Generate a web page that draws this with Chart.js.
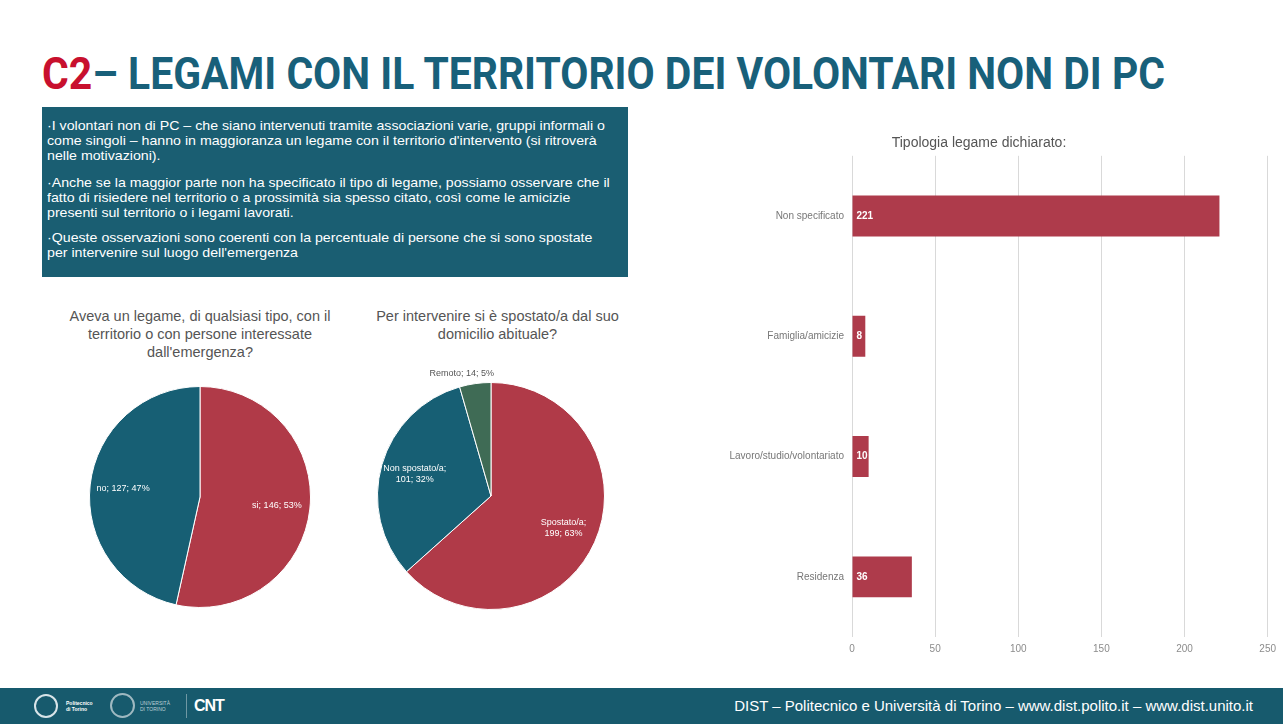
<!DOCTYPE html>
<html><head><meta charset="utf-8">
<script src="https://cdn.jsdelivr.net/npm/chart.js@4.4.1/dist/chart.umd.min.js"></script>
<style>
html,body{margin:0;padding:0;background:#fff;}
body{width:1283px;height:724px;position:relative;overflow:hidden;font-family:"Liberation Sans",Arial,sans-serif;}
#title{position:absolute;left:42px;top:48px;white-space:nowrap;font-family:"Roboto","Liberation Sans",sans-serif;font-weight:700;font-size:44px;color:#18607a;transform-origin:0 0;line-height:52px;}
#title .c2{color:#c8102e;}
#box{position:absolute;left:42px;top:107px;width:586px;height:170px;background:#1a5e72;color:#fff;}
#box .l{position:absolute;left:5px;white-space:nowrap;font-size:12.6px;line-height:14px;transform-origin:0 0;}
.ptitle{position:absolute;text-align:center;color:#555;font-size:14.5px;line-height:18px;white-space:nowrap;}
canvas{position:absolute;}
#footer{position:absolute;left:0;top:688px;width:1283px;height:36px;background:#175a6d;}
#ftext{position:absolute;right:30px;top:9px;color:#fff;font-size:15px;white-space:nowrap;}
.logo{position:absolute;color:#fff;font-size:5px;line-height:6px;}
.circ{position:absolute;border:2px solid #d8e4e8;border-radius:50%;}
</style></head>
<body>
<div id="title"><span class="c2">C2</span>– LEGAMI CON IL TERRITORIO DEI VOLONTARI NON DI PC</div>
<div id="box">
 <div class="l" style="top:12px">·I volontari non di PC – che siano intervenuti tramite associazioni varie, gruppi informali o</div>
 <div class="l" style="top:27px">come singoli – hanno in maggioranza un legame con il territorio d'intervento (si ritroverà</div>
 <div class="l" style="top:42px">nelle motivazioni).</div>
 <div class="l" style="top:69px">·Anche se la maggior parte non ha specificato il tipo di legame, possiamo osservare che il</div>
 <div class="l" style="top:84px">fatto di risiedere nel territorio o a prossimità sia spesso citato, così come le amicizie</div>
 <div class="l" style="top:99px">presenti sul territorio o i legami lavorati.</div>
 <div class="l" style="top:124px">·Queste osservazioni sono coerenti con la percentuale di persone che si sono spostate</div>
 <div class="l" style="top:139px">per intervenire sul luogo dell'emergenza</div>
</div>
<div class="ptitle" style="left:30px;width:340px;top:307px">Aveva un legame, di qualsiasi tipo, con il<br>territorio o con persone interessate<br>dall'emergenza?</div>
<div class="ptitle" style="left:330px;width:335px;top:307px">Per intervenire si è spostato/a dal suo<br>domicilio abituale?</div>

<canvas id="pie1" width="222" height="222" style="left:89px;top:386px;width:222px;height:222px"></canvas>
<canvas id="pie2" width="260" height="260" style="left:361px;top:366px;width:260px;height:260px"></canvas>
<canvas id="bar" width="592" height="545" style="left:690px;top:120px;width:592px;height:545px"></canvas>

<div id="footer">
 <div class="circ" style="left:34px;top:6px;width:20px;height:20px"></div>
 <div class="logo" style="left:66px;top:12px;font-weight:bold">Politecnico<br>di Torino</div>
 <div class="circ" style="left:110px;top:5px;width:21px;height:21px;border-color:#9fb9c1"></div>
 <div class="logo" style="left:140px;top:12px;color:#bcd0d6">UNIVERSITÀ<br>DI TORINO</div>
 <div style="position:absolute;left:186px;top:6px;width:1px;height:24px;background:#6f98a4"></div>
 <div class="logo" style="left:194px;top:9px;font-size:16px;line-height:18px;font-weight:bold;letter-spacing:-1px">CNT</div>
 <div id="ftext">DIST – Politecnico e Università di Torino – www.dist.polito.it – www.dist.unito.it</div>
</div>

<script>
// ---- data ----
const pie1Labels = ['si', 'no'];
const pie1Values = [146, 127];
const pie1Pct = ['53%', '47%'];
const pie2Labels = ['Spostato/a', 'Non spostato/a', 'Remoto'];
const pie2Values = [199, 101, 14];
const pie2Pct = ['63%', '32%', '5%'];
const barLabels = ['Non specificato', 'Famiglia/amicizie', 'Lavoro/studio/volontariato', 'Residenza'];
const barValues = [221, 8, 10, 36];
const barTicks = [0, 50, 100, 150, 200, 250];

// fit title / text lines
(function(){
  const t = document.getElementById('title');
  const w = t.getBoundingClientRect().width;
  t.style.transform = 'scaleX(' + (1123 / w) + ')';
  const lines = document.querySelectorAll('#box .l');
  const k = 558 / lines[0].getBoundingClientRect().width;
  lines.forEach(l => { l.style.transform = 'scaleX(' + k + ')'; });
})();

const RED = '#b03a48', TEAL = '#175f74', GREEN = '#3f6b55';

const pieLabelPlugin = {
  id: 'pieLabels',
  afterDatasetsDraw(chart, args, opts) {
    const ctx = chart.ctx;
    const ds = chart.data.datasets[0];
    const meta = chart.getDatasetMeta(0);
    const pcts = opts.pct;
    ctx.save();
    ctx.font = '9px "Liberation Sans", Arial, sans-serif';
    ctx.textAlign = 'center';
    ctx.textBaseline = 'middle';
    meta.data.forEach((arc, i) => {
      const p = arc.getProps(['x','y','startAngle','endAngle','outerRadius'], true);
      const mid = (p.startAngle + p.endAngle) / 2;
      const full = chart.data.labels[i] + '; ' + ds.data[i] + '; ' + pcts[i];
      let ls = opts.twoLine ? [chart.data.labels[i] + ';', ds.data[i] + '; ' + pcts[i]] : [full];
      let r = p.outerRadius * 0.7, color = '#fff', dx = 0;
      if (opts.outside && opts.outside.includes(i)) {
        r = p.outerRadius + 10; color = '#555'; dx = -12; ls = [full];
      }
      const x = p.x + Math.cos(mid) * r + dx;
      const y = p.y + Math.sin(mid) * r;
      ctx.fillStyle = color;
      ls.forEach((s, k) => ctx.fillText(s, x, y + (k - (ls.length - 1) / 2) * 11));
    });
    ctx.restore();
  }
};

new Chart(document.getElementById('pie1'), {
  type: 'pie',
  data: { labels: pie1Labels, datasets: [{ data: pie1Values, backgroundColor: [RED, TEAL], borderColor: '#fff', borderWidth: 1 }] },
  options: { responsive: false, animation: false, layout: { padding: 0 },
    plugins: { legend: { display: false }, tooltip: { enabled: false }, pieLabels: { twoLine: false, pct: pie1Pct } } },
  plugins: [pieLabelPlugin]
});

new Chart(document.getElementById('pie2'), {
  type: 'pie',
  data: { labels: pie2Labels, datasets: [{ data: pie2Values, backgroundColor: [RED, TEAL, GREEN], borderColor: '#fff', borderWidth: 1 }] },
  options: { responsive: false, animation: false, layout: { padding: 16 },
    plugins: { legend: { display: false }, tooltip: { enabled: false }, pieLabels: { twoLine: true, outside: [2], pct: pie2Pct } } },
  plugins: [pieLabelPlugin]
});

const barLabelPlugin = {
  id: 'barLabels',
  afterDatasetsDraw(chart) {
    const ctx = chart.ctx;
    const meta = chart.getDatasetMeta(0);
    ctx.save();
    ctx.font = 'bold 10px "Liberation Sans", Arial, sans-serif';
    ctx.fillStyle = '#fff';
    ctx.textAlign = 'left';
    ctx.textBaseline = 'middle';
    meta.data.forEach((bar, i) => {
      ctx.fillText(String(chart.data.datasets[0].data[i]), bar.base + 4, bar.y);
    });
    ctx.restore();
  }
};

new Chart(document.getElementById('bar'), {
  type: 'bar',
  data: { labels: barLabels, datasets: [{ data: barValues, backgroundColor: '#ae3b4b', categoryPercentage: 1, barPercentage: 0.34 }] },
  options: {
    indexAxis: 'y', responsive: false, animation: false,
    layout: { padding: { left: 0, right: 14, top: 0, bottom: 0 } },
    plugins: {
      legend: { display: false }, tooltip: { enabled: false },
      title: { display: true, text: 'Tipologia legame dichiarato:', color: '#555',
        font: { size: 14, family: '"Liberation Sans", Arial, sans-serif', weight: 'normal' },
        padding: { top: 15, bottom: 4 } }
    },
    scales: {
      x: { min: 0, max: 250,
        afterBuildTicks: (s) => { s.ticks = barTicks.map(v => ({ value: v })); },
        afterFit: (s) => { s.height = 28; },
        grid: { color: '#d9d9d9', drawTicks: false, lineWidth: 1 },
        border: { display: false },
        ticks: { color: '#8c8c8c', padding: 6, font: { size: 10, family: '"Liberation Sans", Arial, sans-serif' } } },
      y: {
        afterFit: (s) => { s.width = 162; },
        grid: { display: false, drawTicks: false },
        border: { display: false },
        ticks: { color: '#777', padding: 8, font: { size: 10, family: '"Liberation Sans", Arial, sans-serif' } } }
    }
  },
  plugins: [barLabelPlugin]
});
</script>
</body></html>
